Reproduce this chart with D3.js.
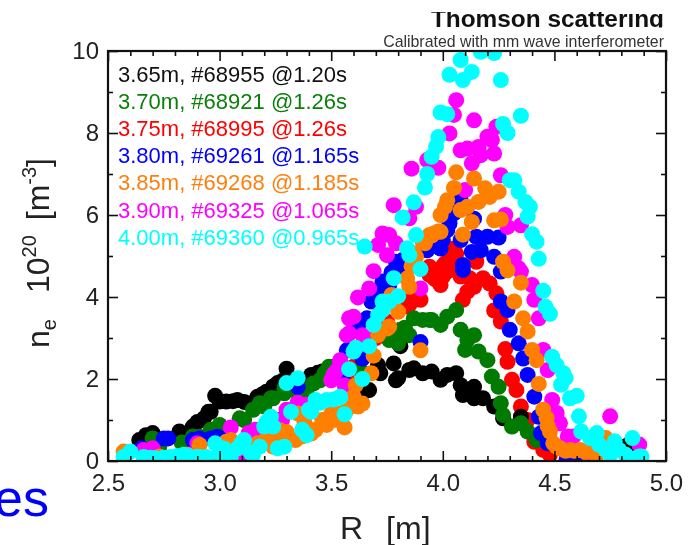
<!DOCTYPE html>
<html>
<head>
    <meta charset="utf-8">
    <title>Thomson scattering</title>
    <script src="https://d3js.org/d3.v7.min.js"></script>
    <style>
        html, body { margin: 0; padding: 0; background: #fff; }
        svg { display: block; font-family: "Liberation Sans", Arial, sans-serif; filter: blur(0.5px); }
    </style>
</head>
<body>
    <div id="chart"></div>

    <script>
        // Values as [R in m, ne in 10^20 m^-3]
        const black = [[2.64,.51],[2.66,.51],[2.67,.63],[2.7,.68],[2.82,.72],[2.88,.84],[2.9,.95],[2.93,1.04],[2.95,1.2],[2.96,1.2],[2.98,1.59],[3.0,1.45],[3.03,1.45],[3.06,1.46],[3.08,1.49],[3.11,1.44],[3.14,1.41],[3.17,1.57],[3.19,1.62],[3.21,1.69],[3.24,1.82],[3.26,1.9],[3.28,1.95],[3.3,2.25],[3.37,1.9],[3.41,2.1],[3.44,2.15],[3.46,2.18],[3.65,1.69],[3.67,1.73],[3.71,2.34],[3.72,2.14],[3.78,2.38],[3.79,1.97],[3.8,2.02],[3.81,2.8],[3.85,2.22],[3.87,2.26],[3.91,2.14],[3.95,2.18],[3.99,1.98],[4.02,2.1],[4.06,2.14],[4.08,1.85],[4.09,1.61],[4.14,1.81],[4.14,1.53],[4.18,1.53],[4.23,1.33],[4.27,1.04],[4.35,1.08],[4.83,.39]];
        const green = [[2.7,.55],[2.73,.35],[2.83,.45],[2.88,.6],[2.91,.59],[2.96,.76],[3.0,.88],[3.09,1.04],[3.11,1.0],[3.15,1.25],[3.18,1.41],[3.2,1.33],[3.23,1.53],[3.24,1.53],[3.29,1.65],[3.29,1.77],[3.35,1.65],[3.39,1.73],[3.42,1.89],[3.45,1.97],[3.47,2.14],[3.49,2.3],[3.51,2.3],[3.63,2.22],[3.76,2.95],[3.8,2.87],[3.81,3.2],[3.83,3.25],[3.85,3.07],[3.87,3.48],[3.91,3.44],[3.94,3.44],[3.95,3.44],[3.99,3.32],[4.02,3.52],[4.06,3.68],[4.08,3.2],[4.11,2.95],[4.14,3.07],[4.1,2.71],[4.16,2.67],[4.2,2.46],[4.22,2.06],[4.25,1.81],[4.26,1.41],[4.27,1.12],[4.31,.84],[4.35,.92],[4.38,.72],[4.42,.51]];
        const red = [[3.57,2.0],[3.6,2.3],[3.7,3.0],[3.75,3.4],[3.83,3.97],[3.84,3.77],[3.85,3.81],[3.87,3.93],[3.9,3.93],[3.94,4.54],[3.94,4.74],[3.96,4.46],[3.97,4.42],[3.99,4.29],[3.99,4.65],[4.0,4.5],[4.0,4.75],[4.01,4.82],[4.02,4.62],[4.03,4.98],[4.03,4.8],[4.05,5.18],[4.06,5.05],[4.08,4.5],[4.09,3.93],[4.11,4.13],[4.12,4.46],[4.14,4.25],[4.15,4.86],[4.18,4.46],[4.21,4.33],[4.24,4.09],[4.23,3.67],[4.26,3.4],[4.28,2.73],[4.29,2.42],[4.31,1.98],[4.33,1.73],[4.35,1.33],[4.38,1.0],[4.41,.47],[4.45,.27],[4.48,.15]];
        const blue = [[2.65,.31],[2.75,.55],[2.77,.55],[2.88,.51],[2.91,.55],[2.96,.55],[2.99,.59],[3.02,.55],[3.27,1.0],[3.35,1.81],[3.55,2.02],[3.57,2.7],[3.58,2.7],[3.62,3.28],[3.64,2.5],[3.66,3.48],[3.68,3.89],[3.7,3.93],[3.71,4.05],[3.73,4.38],[3.75,4.17],[3.76,4.3],[3.77,4.6],[3.79,4.86],[3.81,4.75],[3.82,4.9],[3.9,2.9],[3.93,5.14],[3.96,5.25],[3.98,5.35],[3.99,5.18],[4.0,5.39],[4.02,5.63],[4.03,5.79],[4.05,6.04],[4.08,6.36],[4.08,5.39],[4.09,4.78],[4.09,4.66],[4.13,5.1],[4.14,5.91],[4.15,5.47],[4.17,5.14],[4.2,5.47],[4.23,4.98],[4.25,5.45],[4.26,4.62],[4.26,3.89],[4.29,3.68],[4.3,3.2],[4.34,2.87],[4.36,2.5],[4.38,2.1],[4.41,1.57],[4.43,1.08],[4.44,.68],[4.47,.43],[4.555,.03],[4.6,.03]];
        const magenta = [[2.66,.27],[2.7,.31],[2.9,.43],[3.05,.82],[3.11,.1],[3.13,.68],[3.16,.76],[3.28,1.0],[3.3,1.25],[3.35,1.42],[3.39,1.37],[3.5,1.97],[3.51,2.1],[3.52,2.18],[3.54,2.46],[3.54,2.38],[3.56,1.85],[3.57,3.07],[3.58,3.48],[3.58,3.11],[3.6,3.52],[3.62,3.99],[3.64,3.07],[3.67,4.21],[3.69,4.63],[3.71,5.27],[3.73,5.55],[3.75,5.02],[3.76,5.51],[3.79,5.31],[3.78,6.24],[3.85,5.92],[3.86,7.13],[3.88,6.2],[3.9,4.21],[3.93,7.34],[3.98,7.15],[4.03,7.99],[4.05,8.44],[4.06,8.8],[4.08,7.58],[4.1,6.61],[4.11,7.62],[4.13,7.26],[4.14,8.31],[4.16,7.66],[4.17,7.46],[4.2,7.91],[4.22,7.83],[4.23,7.5],[4.24,8.15],[4.26,6.97],[4.28,6.0],[4.29,5.71],[4.32,4.98],[4.34,4.7],[4.35,5.75],[4.35,4.62],[4.4,4.29],[4.41,3.93],[4.43,3.48],[4.45,2.71],[4.47,2.22],[4.49,1.49],[4.51,1.17],[4.525,.92],[4.56,.6],[4.585,.6],[4.66,.03],[4.75,1.09],[4.88,.4]];
        const orange = [[2.57,.23],[2.73,.11],[2.85,.15],[2.91,.39],[2.99,.1],[3.02,.19],[3.03,.47],[3.05,.51],[3.11,.35],[3.15,.35],[3.17,.43],[3.21,.55],[3.24,.35],[3.24,.43],[3.27,.59],[3.27,.75],[3.3,.71],[3.34,.51],[3.35,1.16],[3.37,.6],[3.38,.95],[3.41,.67],[3.43,.76],[3.46,1.0],[3.48,.88],[3.5,1.15],[3.51,1.0],[3.54,1.16],[3.56,.82],[3.57,1.25],[3.58,1.41],[3.6,1.57],[3.61,1.85],[3.62,1.33],[3.64,1.4],[3.68,2.14],[3.69,2.57],[3.71,3.07],[3.75,3.23],[3.76,3.28],[3.77,4.05],[3.8,3.64],[3.84,4.45],[3.85,4.25],[3.86,4.75],[3.87,5.07],[3.88,4.98],[3.9,2.7],[3.91,5.35],[3.92,5.31],[3.94,5.51],[3.95,5.5],[3.96,5.55],[3.98,5.6],[3.99,5.59],[3.99,6.0],[4.01,6.2],[4.02,6.36],[4.05,6.66],[4.06,7.04],[4.08,6.12],[4.09,5.52],[4.11,6.2],[4.13,5.83],[4.14,6.89],[4.16,6.32],[4.19,6.65],[4.21,6.44],[4.23,5.87],[4.25,6.57],[4.26,5.89],[4.27,4.86],[4.29,4.65],[4.32,3.89],[4.35,4.35],[4.36,3.48],[4.38,3.16],[4.4,2.71],[4.42,2.46],[4.43,1.88],[4.45,1.25],[4.465,1.05],[4.47,.85],[4.48,.72],[4.495,.43],[4.51,.35],[4.525,.31],[4.55,.25],[4.57,.27],[4.59,.25],[4.615,.27],[4.64,.22],[4.66,.23],[4.69,.15],[4.73,.56]];
        const cyan = [[2.57,.1],[2.6,.23],[2.66,.1],[2.69,.08],[2.71,.07],[2.75,.08],[2.78,.1],[2.81,.12],[2.84,.15],[2.86,.12],[2.9,.1],[2.91,.1],[2.94,.1],[2.98,.43],[3.0,.19],[3.01,.31],[3.02,.3],[3.05,.11],[3.08,.31],[3.1,.45],[3.11,.51],[3.14,.2],[3.15,.15],[3.18,.35],[3.2,.84],[3.21,.95],[3.23,1.08],[3.24,.84],[3.26,.31],[3.29,.35],[3.3,1.9],[3.32,1.2],[3.35,2.02],[3.37,.76],[3.39,.63],[3.4,1.25],[3.41,1.2],[3.43,1.49],[3.45,1.42],[3.48,1.49],[3.51,1.5],[3.54,1.57],[3.54,1.55],[3.56,1.14],[3.58,2.24],[3.6,2.67],[3.61,2.76],[3.64,2.0],[3.65,5.23],[3.67,2.8],[3.69,3.32],[3.71,3.56],[3.73,3.68],[3.73,3.89],[3.76,3.89],[3.78,4.46],[3.8,4.02],[3.82,5.94],[3.84,5.19],[3.85,5.02],[3.87,6.31],[3.88,5.51],[3.9,4.68],[3.92,6.67],[3.93,7.0],[3.95,7.42],[3.97,7.67],[3.98,7.9],[3.99,8.5],[4.02,8.46],[4.03,9.42],[4.08,9.78],[4.09,9.29],[4.13,9.49],[4.17,9.98],[4.23,9.95],[4.26,9.29],[4.27,8.22],[4.29,8.0],[4.3,6.85],[4.32,6.85],[4.34,6.57],[4.35,8.42],[4.37,6.32],[4.38,5.96],[4.39,6.2],[4.4,5.53],[4.42,5.35],[4.43,4.93],[4.45,4.15],[4.46,3.76],[4.48,3.59],[4.49,2.54],[4.51,2.34],[4.53,1.86],[4.54,2.14],[4.55,2.02],[4.57,1.53],[4.6,1.59],[4.61,1.09],[4.62,.72],[4.66,.56],[4.69,.68],[4.7,.4],[4.73,.27],[4.75,.15],[4.77,.48],[4.79,.27],[4.82,.15],[4.85,.56],[4.88,.11],[4.89,.11]];

        const xMajor = [2.5, 3.0, 3.5, 4.0, 4.5, 5.0];
        const xMinor = [2.6, 2.7, 2.8, 2.9, 3.1, 3.2, 3.3, 3.4, 3.6, 3.7, 3.8, 3.9, 4.1, 4.2, 4.3, 4.4, 4.6, 4.7, 4.8, 4.9];
        const yMajor = [0, 2, 4, 6, 8, 10];
        const yMinor = [1, 3, 5, 7, 9];

        const legendLabels = ["3.65m, #68955 @1.20s", "3.70m, #68921 @1.26s", "3.75m, #68995 @1.26s", "3.80m, #69261 @1.165s", "3.85m, #69268 @1.185s", "3.90m, #69325 @1.065s", "4.00m, #69360 @0.965s"];
        const legendColors = ["#111111", "#0a7f0a", "#ff0000", "#0000ff", "#ff7f0e", "#ff00ff", "#00ffff"];

        // Paint order differs from legend order: some later shots sit under earlier ones
        const layers = [
            [red, "#ff0000"],
            [black, "#000000"],
            [green, "#007a00"],
            [blue, "#0000ff"],
            [magenta, "#ff00ff"],
            [orange, "#ff7f00"],
            [cyan, "#00ffff"]
        ];

        const width = 698, height = 545;
        const plot = { left: 108, right: 666, top: 51, bottom: 461 };

        const svg = d3.select("#chart").append("svg")
            .attr("width", width)
            .attr("height", height);

        const x = d3.scaleLinear().domain([2.5, 5.0]).range([plot.left, plot.right]);
        const y = d3.scaleLinear().domain([0, 10]).range([plot.bottom, plot.top]);

        const defs = svg.append("defs");
        defs.append("clipPath").attr("id", "plot-clip").append("rect")
            .attr("x", plot.left).attr("y", plot.top)
            .attr("width", plot.right - plot.left).attr("height", plot.bottom - plot.top);
        // The source image cuts the title off above and below
        defs.append("clipPath").attr("id", "title-clip").append("rect")
            .attr("x", 380).attr("y", 12).attr("width", 318).attr("height", 15.5);

        // Markers
        const marks = svg.append("g").attr("clip-path", "url(#plot-clip)");
        layers.forEach(function(layer) {
            marks.append("g").attr("fill", layer[1])
                .selectAll("circle").data(layer[0]).join("circle")
                .attr("cx", d => x(d[0]))
                .attr("cy", d => y(d[1]))
                .attr("r", 8);
        });

        // Frame and inward ticks on all four sides
        function styleAxis(g) {
            g.select(".domain").remove();
            g.selectAll("line").attr("stroke", "#111").attr("stroke-width", 1.6);
            g.selectAll("text").attr("fill", "#222").attr("font-size", 24).attr("font-family", "Liberation Sans");
        }
        function noLabels(axis) { return axis.tickFormat(""); }

        svg.append("g").attr("transform", `translate(0,${plot.bottom})`)
            .call(d3.axisBottom(x).tickValues(xMajor).tickSize(-10).tickPadding(13).tickFormat(d3.format(".1f")))
            .call(styleAxis);
        svg.append("g").attr("transform", `translate(0,${plot.bottom})`)
            .call(noLabels(d3.axisBottom(x).tickValues(xMinor).tickSize(-5))).call(styleAxis);
        svg.append("g").attr("transform", `translate(0,${plot.top})`)
            .call(noLabels(d3.axisTop(x).tickValues(xMajor).tickSize(-10))).call(styleAxis);
        svg.append("g").attr("transform", `translate(0,${plot.top})`)
            .call(noLabels(d3.axisTop(x).tickValues(xMinor).tickSize(-5))).call(styleAxis);
        svg.append("g").attr("transform", `translate(${plot.left},0)`)
            .call(d3.axisLeft(y).tickValues(yMajor).tickSize(-10).tickPadding(9))
            .call(styleAxis);
        svg.append("g").attr("transform", `translate(${plot.left},0)`)
            .call(noLabels(d3.axisLeft(y).tickValues(yMinor).tickSize(-5))).call(styleAxis);
        svg.append("g").attr("transform", `translate(${plot.right},0)`)
            .call(noLabels(d3.axisRight(y).tickValues(yMajor).tickSize(-10))).call(styleAxis);
        svg.append("g").attr("transform", `translate(${plot.right},0)`)
            .call(noLabels(d3.axisRight(y).tickValues(yMinor).tickSize(-5))).call(styleAxis);

        svg.append("rect")
            .attr("x", plot.left).attr("y", plot.top)
            .attr("width", plot.right - plot.left).attr("height", plot.bottom - plot.top)
            .attr("fill", "none").attr("stroke", "#111").attr("stroke-width", 2.2);

        // Legend
        svg.append("g").selectAll("text").data(legendLabels).join("text")
            .attr("x", 118)
            .attr("y", (d, i) => 81.5 + i * 27.2)
            .attr("font-size", 22)
            .attr("fill", (d, i) => legendColors[i])
            .text(d => d);

        // Titles
        const titles = svg.append("g").attr("clip-path", "url(#title-clip)").attr("text-anchor", "end");
        titles.append("text").attr("x", 664).attr("y", 26.5)
            .attr("font-size", 24.4).attr("font-weight", "bold").attr("fill", "#111")
            .text("Thomson scattering");
        svg.append("text").attr("x", 664).attr("y", 47).attr("text-anchor", "end")
            .attr("font-size", 15.9).attr("fill", "#333")
            .text("Calibrated with mm wave interferometer");

        // Axis titles
        const xTitle = svg.append("text").attr("x", 340).attr("y", 539).attr("font-size", 32).attr("fill", "#222");
        xTitle.append("tspan").text("R");
        xTitle.append("tspan").attr("dx", 23).text("[m]");

        const yTitle = svg.append("text").attr("transform", "translate(49,348) rotate(-90)")
            .attr("font-size", 32).attr("fill", "#222");
        yTitle.append("tspan").text("n");
        yTitle.append("tspan").attr("font-size", 20).attr("dy", 7).text("e");
        yTitle.append("tspan").attr("dx", 26).attr("dy", -7).text("10");
        yTitle.append("tspan").attr("font-size", 20).attr("dy", -13).text("20");
        yTitle.append("tspan").attr("dx", 15).attr("dy", 13).text("[m");
        yTitle.append("tspan").attr("font-size", 20).attr("dy", -13).text("-3");
        yTitle.append("tspan").attr("dy", 13).text("]");

        // Leftover of a slide behind the chart
        svg.append("text").attr("x", 49).attr("y", 516).attr("text-anchor", "end")
            .attr("font-size", 52).attr("fill", "#0000ff").text("es");
    </script>
</body>
</html>
